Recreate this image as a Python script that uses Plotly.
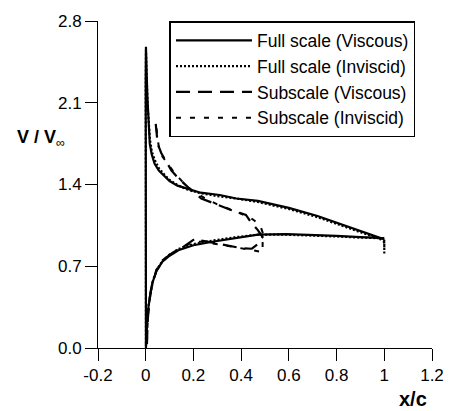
import plotly.graph_objects as go

# ---------------- data ----------------
# Full scale, viscous (solid): TE upper -> LE -> lower -> TE
fsv_x = [1.00, 0.93, 0.86, 0.79, 0.72, 0.60, 0.47, 0.38, 0.31, 0.23, 0.18, 0.133, 0.10, 0.079,
         0.055, 0.037, 0.025, 0.017, 0.014, 0.010, 0.007, 0.004, 0.001, 0.000, 0.000, 0.000,
         0.001, 0.003, 0.005, 0.008, 0.012, 0.017, 0.022, 0.030, 0.045, 0.070, 0.10, 0.14, 0.20,
         0.28, 0.38, 0.47, 0.59, 0.70, 0.80, 0.90, 1.00]
fsv_y = [0.93, 0.98, 1.03, 1.08, 1.13, 1.20, 1.26, 1.28, 1.31, 1.33, 1.36, 1.39, 1.43, 1.47,
         1.52, 1.58, 1.66, 1.75, 1.85, 1.98, 2.15, 2.35, 2.58, 2.30, 1.20, 0.30,
         0.00, 0.08, 0.18, 0.28, 0.36, 0.42, 0.50, 0.57, 0.66, 0.74, 0.79, 0.84, 0.88,
         0.91, 0.94, 0.97, 0.975, 0.97, 0.96, 0.95, 0.94]

# Full scale, inviscid (dotted)
fsi_x = [1.00, 1.00, 0.93, 0.86, 0.79, 0.72, 0.60, 0.47, 0.38, 0.30, 0.22, 0.17, 0.13, 0.10,
         0.08, 0.055, 0.038, 0.026, 0.018, 0.013, 0.009, 0.006, 0.003, 0.001, 0.000, 0.000,
         0.001, 0.003, 0.005, 0.008, 0.012, 0.017, 0.023, 0.031, 0.046, 0.072, 0.10, 0.14, 0.20,
         0.28, 0.38, 0.47, 0.59, 0.70, 0.80, 0.90, 0.99, 1.00, 1.00]
fsi_y = [0.81, 0.92, 0.97, 1.02, 1.07, 1.12, 1.19, 1.25, 1.28, 1.30, 1.33, 1.36, 1.40, 1.44,
         1.48, 1.54, 1.61, 1.68, 1.78, 1.90, 2.05, 2.20, 2.40, 2.55, 2.20, 1.10,
         0.02, 0.10, 0.20, 0.29, 0.37, 0.43, 0.51, 0.58, 0.67, 0.75, 0.80, 0.85, 0.89,
         0.92, 0.95, 0.97, 0.97, 0.965, 0.955, 0.945, 0.94, 0.90, 0.84]

# Subscale, viscous (long dash)
ssv_x = [0.042, 0.050, 0.065, 0.079, 0.095, 0.108, 0.129, 0.16, 0.191, 0.233, 0.27, 0.31, 0.36,
         0.42, 0.44, 0.47, 0.49, 0.47, 0.445, 0.40, 0.36, 0.32, 0.27, 0.235, 0.21, 0.19,
         0.14, 0.10, 0.07, 0.045, 0.030, 0.020, 0.013, 0.008, 0.005]
ssv_y = [1.92, 1.75, 1.67, 1.62, 1.57, 1.52, 1.47, 1.41, 1.35, 1.28, 1.25, 1.22, 1.18,
         1.14, 1.08, 1.01, 0.95, 0.89, 0.85, 0.855, 0.87, 0.89, 0.91, 0.92, 0.94, 0.91,
         0.84, 0.80, 0.74, 0.66, 0.57, 0.47, 0.36, 0.22, 0.02]

# Subscale, inviscid (short dash)
ssi_x = [0.045, 0.055, 0.07, 0.09, 0.12, 0.16, 0.20, 0.25, 0.30, 0.35, 0.40, 0.45, 0.48, 0.49,
         0.49, 0.44, 0.38, 0.30, 0.24, 0.20, 0.14, 0.10, 0.07, 0.045, 0.030, 0.020, 0.013,
         0.008, 0.005]
ssi_y = [1.88, 1.72, 1.64, 1.58, 1.50, 1.41, 1.34, 1.28, 1.23, 1.19, 1.15, 1.10, 1.05, 0.99,
         0.82, 0.84, 0.86, 0.89, 0.91, 0.91, 0.85, 0.80, 0.75, 0.67, 0.58, 0.48, 0.37,
         0.24, 0.03]

series_names = ["Full scale (Viscous)", "Full scale (Inviscid)",
                "Subscale (Viscous)", "Subscale (Inviscid)"]

x_ticks = [-0.2, 0, 0.2, 0.4, 0.6, 0.8, 1, 1.2]
x_tick_labels = ["-0.2", "0", "0.2", "0.4", "0.6", "0.8", "1", "1.2"]
y_ticks = [0.0, 0.7, 1.4, 2.1, 2.8]
y_tick_labels = ["0.0", "0.7", "1.4", "2.1", "2.8"]

# ---------------- figure ----------------
FONT = "Liberation Sans, Arial, Helvetica, sans-serif"
styles = [dict(dash="solid", width=2.2),
          dict(dash="2px,2px", width=2.2),
          dict(dash="14px,8px", width=2.2),
          dict(dash="5px,9px", width=2.0)]
xs = [fsv_x, fsi_x, ssv_x, ssi_x]
ys = [fsv_y, fsi_y, ssv_y, ssi_y]

fig = go.Figure()
for name, x, y, st in zip(series_names, xs, ys, styles):
    fig.add_trace(go.Scatter(x=x, y=y, mode="lines", name=name,
                             line=dict(color="black", **st)))

fig.update_layout(
    width=456, height=411,
    margin=dict(l=98, r=21, t=15, b=63),
    paper_bgcolor="white", plot_bgcolor="white",
    font=dict(family=FONT, size=17, color="black"),
    showlegend=True,
    legend=dict(x=0.214, y=1.0, xanchor="left", yanchor="top",
                bgcolor="white", bordercolor="black", borderwidth=1.5,
                font=dict(family=FONT, size=17.5, color="black"),
                itemwidth=76, tracegroupgap=0),
    xaxis=dict(range=[-0.2, 1.2], tickvals=x_ticks, ticktext=x_tick_labels,
               showgrid=False, zeroline=False, showline=True, linecolor="black",
               linewidth=1, ticks="outside", ticklen=12, tickcolor="black",
               mirror=False),
    yaxis=dict(range=[0, 2.8], tickvals=y_ticks, ticktext=y_tick_labels,
               showgrid=False, zeroline=False, showline=True, linecolor="black",
               linewidth=1, ticks="outside", ticklen=12, tickcolor="black",
               mirror=False),
    annotations=[
        dict(text="<b>V / V</b><sub>∞</sub>", xref="paper", yref="paper",
             x=-0.25, y=0.64, xanchor="left", yanchor="middle", showarrow=False,
             font=dict(family=FONT, size=18, color="black")),
        dict(text="<b>x/c</b>", xref="paper", yref="paper",
             x=0.99, y=-0.155, xanchor="right", yanchor="middle", showarrow=False,
             font=dict(family=FONT, size=20, color="black")),
    ],
)

fig.write_html("out.html")
